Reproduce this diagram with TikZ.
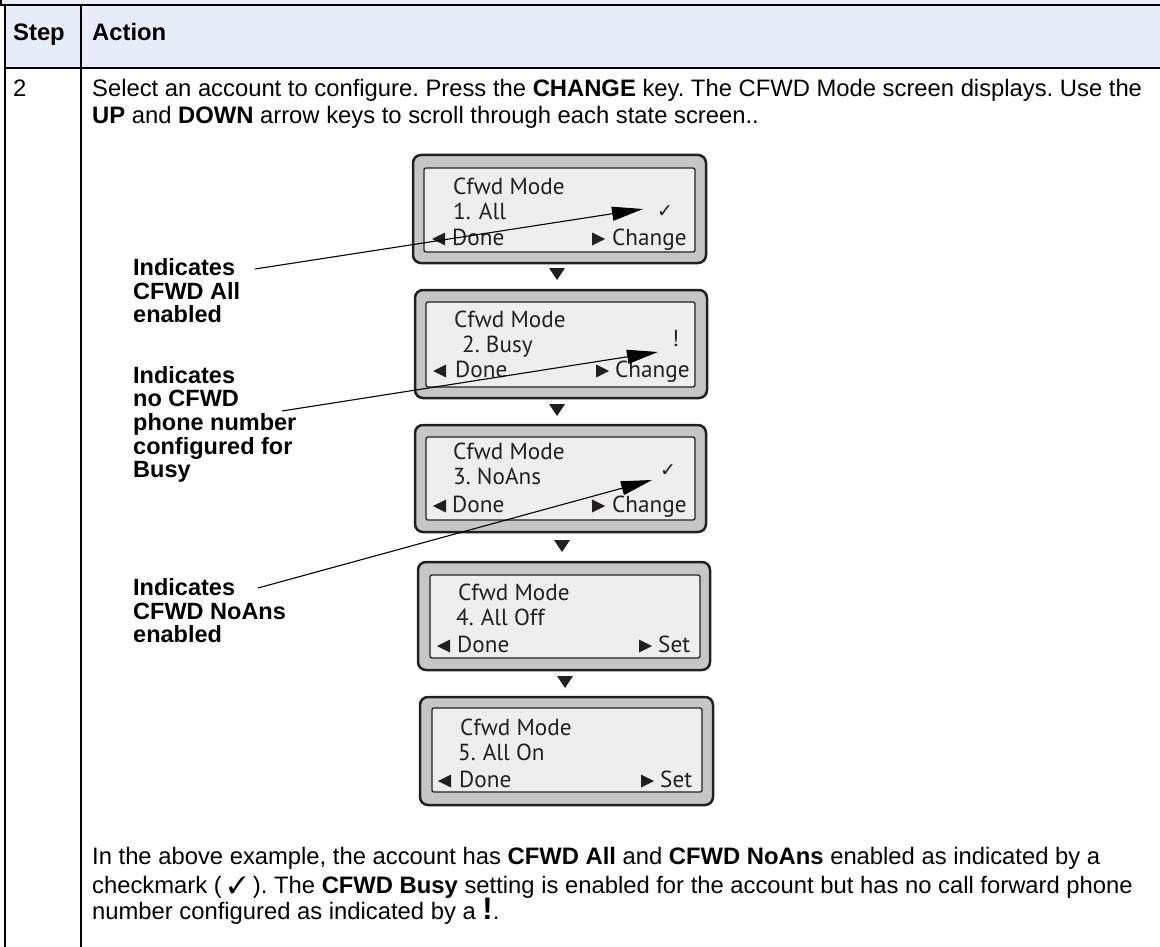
\documentclass[tikz,border=0pt]{standalone}
\usepackage{fontspec}
\setmainfont{Liberation Sans}
\newfontfamily\scrfont{PT Sans}
\newfontfamily\symfont{DejaVu Sans}
\usepackage{pifont}
\usetikzlibrary{arrows.meta,calc}
\definecolor{hdr}{HTML}{E6ECF8}
\definecolor{bezel}{HTML}{C6C6C6}
\definecolor{lcd}{HTML}{EEEEEE}
\definecolor{ink}{HTML}{231F20}
\newcommand\lefttri[2]{\fill[ink] (#1,#2-6) -- ++(13,-6.5) -- ++(0,13) -- cycle;}
\newcommand\righttri[2]{\fill[ink] (#1,#2-12.5) -- ++(13,6.5) -- ++(-13,6.5) -- cycle;}
\newcommand\downtri[2]{\fill[ink] (#1-8,#2) -- ++(16,0) -- ++(-8,12) -- cycle;}
\frenchspacing
\begin{document}
\frenchspacing
\begin{tikzpicture}[x=1pt,y=-1pt,
  body/.style={font=\frenchspacing\fontsize{23.8}{27.4}\selectfont, inner sep=0pt, anchor=base west},
  lbl/.style={font=\bfseries\fontsize{23.5}{23.6}\selectfont, inner sep=0pt, anchor=base west},
  scr/.style={font=\scrfont\fontsize{23.2}{25}\selectfont, inner sep=0pt, anchor=base west, text=ink},
  chk/.style={font=\symfont\fontsize{19}{19}\selectfont, inner sep=0pt, anchor=base west, text=ink},
  outerbox/.style={draw=ink, line width=2.5pt, fill=bezel, rounded corners=8pt, inner sep=0pt},
  innerbox/.style={draw=ink, line width=1.3pt, fill=lcd, rounded corners=2pt, inner sep=0pt},
  leader/.style={line width=1.1pt, -{Triangle[length=31pt,width=14pt]}},
  tblline/.style={line width=2pt}]
\useasboundingbox (0,0) rectangle (1160,947);
% table
\fill[hdr] (0,0) rectangle (1160,5);
\fill[hdr] (5,5) rectangle (1160,68);
\draw[tblline] (1,0) -- (1,5);
\draw[tblline] (0,5) -- (1160,5);
\draw[tblline] (5,68) -- (1160,68);
\draw[tblline] (5,5) -- (5,947);
\draw[tblline] (81,5) -- (81,947);
\node[body, font=\bfseries\fontsize{23.8}{27.4}\selectfont] (hstep) at (13,41) {Step};
\node[body, font=\bfseries\fontsize{23.8}{27.4}\selectfont] (hact) at (92,41) {Action};
\node[body] (stepno) at (13,97) {2};
\node[body] (t1) at (92,97) {Select an account to configure. Press the \textbf{CHANGE} key. The CFWD Mode screen displays. Use the};
\node[body] (t2) at (92,124) {\textbf{UP} and \textbf{DOWN} arrow keys to scroll through each state screen..};
% screens
\node[outerbox, minimum width=293, minimum height=108] (o1) at (559.5,209) {};
\node[innerbox, minimum width=271, minimum height=84] (i1) at (559.5,210) {};
\node[outerbox, minimum width=292, minimum height=108] (o2) at (561,344) {};
\node[innerbox, minimum width=269, minimum height=85] (i2) at (560.5,344.5) {};
\node[outerbox, minimum width=291, minimum height=107] (o3) at (560.5,478.5) {};
\node[innerbox, minimum width=269, minimum height=83] (i3) at (560.5,478.5) {};
\node[outerbox, minimum width=292, minimum height=108] (o4) at (564,616) {};
\node[innerbox, minimum width=270, minimum height=83] (i4) at (565,616.5) {};
\node[outerbox, minimum width=293, minimum height=108] (o5) at (566.5,751) {};
\node[innerbox, minimum width=270, minimum height=84] (i5) at (567,750) {};
% screen 1
\node[scr] (s1a) at (453,194) {Cfwd Mode};
\node[scr] (s1b) at (453,219) {1.\hspace{0.35em}All};
\node[chk] (s1c) at (657,218) {✓};
\lefttri{432}{245}
\node[scr] (s1d) at (452,245) {Done};
\righttri{592}{245}
\node[scr] (s1e) at (612,245) {Change};
% screen 2
\node[scr] (s2a) at (454,327) {Cfwd Mode};
\node[scr] (s2b) at (462,352) {2. Busy};
\node[scr] (s2c) at (672,346) {!};
\lefttri{433}{377}
\node[scr] (s2d) at (455,377) {Done};
\righttri{596}{377}
\node[scr] (s2e) at (615,377) {Change};
% screen 3
\node[scr] (s3a) at (453,459) {Cfwd Mode};
\node[scr] (s3b) at (453,484) {3. NoAns};
\node[chk] (s3c) at (660,476) {✓};
\lefttri{433}{512}
\node[scr] (s3d) at (452,512) {Done};
\righttri{592}{512}
\node[scr] (s3e) at (612,512) {Change};
% screen 4
\node[scr] (s4a) at (458,600) {Cfwd Mode};
\node[scr] (s4b) at (456,625) {4.\hspace{0.3em}All Off};
\lefttri{437}{652}
\node[scr] (s4d) at (457,652) {Done};
\righttri{639}{652}
\node[scr] (s4e) at (658,652) {Set};
% screen 5
\node[scr] (s5a) at (460,735) {Cfwd Mode};
\node[scr] (s5b) at (458,760) {5.\hspace{0.3em}All On};
\lefttri{438}{787}
\node[scr] (s5d) at (459,787) {Done};
\righttri{641}{787}
\node[scr] (s5e) at (660,787) {Set};
% down markers
\downtri{557}{268}
\downtri{557}{404}
\downtri{562}{540}
\downtri{565}{676}
% labels
\node[lbl] (la1) at (133,275) {Indicates};
\node[lbl] (la2) at (133,299) {CFWD All};
\node[lbl] (la3) at (133,322) {enabled};
\node[lbl] (lb1) at (133,383) {Indicates};
\node[lbl] (lb2) at (133,406) {no CFWD};
\node[lbl] (lb3) at (133,430) {phone number};
\node[lbl] (lb4) at (133,454) {configured for};
\node[lbl] (lb5) at (133,477) {Busy};
\node[lbl] (lc1) at (133,595) {Indicates};
\node[lbl] (lc2) at (133,619) {CFWD NoAns};
\node[lbl] (lc3) at (133,642) {enabled};
% leaders
\coordinate (a1s) at (255,269);
\coordinate (a1e) at (643,209);
\coordinate (a2s) at (282,411);
\coordinate (a2e) at (658,352);
\coordinate (a3s) at (258,588);
\coordinate (a3e) at (652,480);
\draw[leader] (a1s) -- (a1e);
\draw[leader] (a2s) -- (a2e);
\draw[leader] (a3s) -- (a3e);
% bottom text
\node[body] (b1) at (92,864) {In the above example, the account has \textbf{CFWD All} and \textbf{CFWD NoAns} enabled as indicated by a};
\node[body] (b2) at (92,893) {checkmark ( \ding{51} ). The \textbf{CFWD Busy} setting is enabled for the account but has no call forward phone};
\node[body] (b3) at (92,919) {number configured as indicated by a {\bfseries\fontsize{31}{31}\selectfont !}.};
\end{tikzpicture}
\end{document}
